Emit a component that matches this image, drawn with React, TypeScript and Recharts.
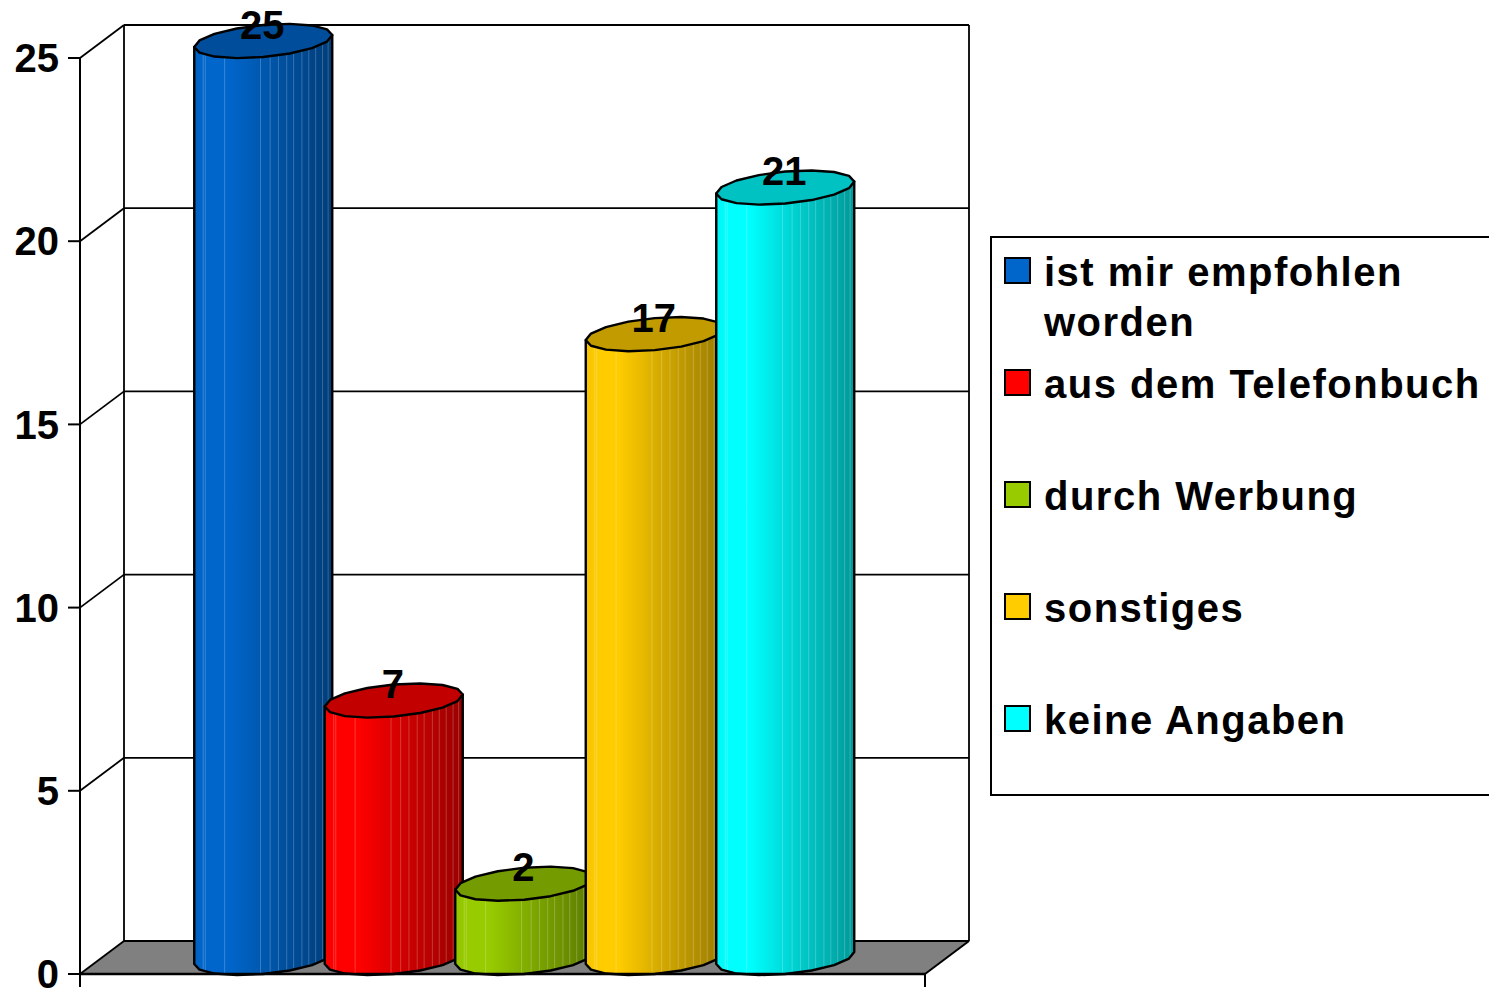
import React from 'react';
import { BarChart, Bar, XAxis, YAxis, CartesianGrid, Legend, LabelList } from 'recharts';

const seriesKeys = ['empfohlen', 'telefonbuch', 'werbung', 'sonstiges', 'keine'];
const seriesNames = ['ist mir empfohlen worden', 'aus dem Telefonbuch', 'durch Werbung', 'sonstiges', 'keine Angaben'];
const seriesValues = [25, 7, 2, 17, 21];
const seriesColors = ['#0066cc', '#ff0000', '#99cc00', '#ffcc00', '#00ffff'];
const yTicks = [0, 5, 10, 15, 20, 25];

const tableRow: Record<string, string | number> = { name: '' };
seriesKeys.forEach((k, i) => { tableRow[k] = seriesValues[i]; });
const table = [tableRow];

const FONT = '"Liberation Sans", Arial, sans-serif';
// 3d look: how far the back wall is shifted from the front plane
const DEPTH_X = 44;
const DEPTH_Y = 33;
const RADIUS_X = 69;
const RADIUS_Y = 16;
const TILT = 6;
const FACET_STEPS = 16;
const seams = [0.065, 0.08, 0.22, 0.48, 0.55, 0.61, 0.67, 0.72, 0.78, 0.83, 0.88, 0.93, 0.97];

function shade(hex: string, f: number) {
    const n = parseInt(hex.slice(1), 16);
    const c = [(n >> 16) & 255, (n >> 8) & 255, n & 255].map(v => Math.round(v * f));
    return `rgb(${c[0]},${c[1]},${c[2]})`;
}

function rim(cx: number, cy: number, t: number) {
    return [cx + RADIUS_X * Math.cos(t), cy + RADIUS_Y * Math.sin(t) - TILT * Math.cos(t)];
}

function Cylinder(props: any) {
    const { x, y, width, height, fill, index, dataKey } = props;
    const cx = x + width / 2 + DEPTH_X / 2;
    const topY = y - 17;
    const baseY = y + height - 16;
    const gid = `side-${dataKey}-${index}`;

    // front half of the base, left to right
    const front: number[][] = [];
    for (let i = 0; i <= FACET_STEPS / 2; i++) {
        front.push(rim(cx, baseY, Math.PI - (i * 2 * Math.PI) / FACET_STEPS));
    }
    const ring: number[][] = [];
    for (let i = 0; i < FACET_STEPS; i++) {
        ring.push(rim(cx, topY, (i * 2 * Math.PI) / FACET_STEPS));
    }
    const tl = rim(cx, topY, Math.PI);
    const tr = rim(cx, topY, 0);
    const side = `M${tl[0]},${tl[1]} ` + front.map(p => `L${p[0]},${p[1]}`).join(' ') + ` L${tr[0]},${tr[1]} Z`;

    return (
        <g>
            <defs>
                <linearGradient id={gid} x1="0" y1="0" x2="1" y2="0">
                    <stop offset="0" stopColor={shade(fill, 0.96)} />
                    <stop offset="0.1" stopColor={shade(fill, 1)} />
                    <stop offset="0.24" stopColor={shade(fill, 1)} />
                    <stop offset="0.6" stopColor={shade(fill, 0.8)} />
                    <stop offset="1" stopColor={shade(fill, 0.6)} />
                </linearGradient>
            </defs>
            <path d={side} fill={`url(#${gid})`} stroke="none" />
            {seams.map(f => {
                const t = Math.acos(2 * f - 1);
                const a = rim(cx, topY, t);
                const b = rim(cx, baseY, t);
                return <line key={f} x1={a[0]} y1={a[1]} x2={b[0]} y2={b[1]} stroke="#fff" strokeOpacity={0.22} strokeWidth={1} />;
            })}
            <path d={side} fill="none" stroke="#000" strokeWidth={2.4} strokeLinejoin="round" />
            <polygon points={ring.map(p => p.join(',')).join(' ')} fill={shade(fill, 0.76)} stroke="#000" strokeWidth={2.4} strokeLinejoin="round" />
        </g>
    );
}

// back wall, floor and frame are hung on the grid lines so they follow the y scale
function WallLine(props: any) {
    const { x1, x2, y1, y, height, index } = props;
    const bottom = y + height;
    const isFloor = Math.abs(y1 - bottom) < 0.5;
    const isTop = Math.abs(y1 - y) < 0.5;
    return (
        <g key={index} stroke="#000" strokeWidth={1.8} fill="none">
            {isFloor && (
                <>
                    <polygon
                        points={`${x1},${y1} ${x1 + DEPTH_X},${y1 - DEPTH_Y} ${x2 + DEPTH_X},${y1 - DEPTH_Y} ${x2},${y1}`}
                        fill="#808080"
                        stroke="none"
                    />
                    <line x1={x2} y1={y1} x2={x2 + DEPTH_X} y2={y1 - DEPTH_Y} strokeWidth={2} />
                    <line x1={x1} y1={y1} x2={x1} y2={y1 + 13} strokeWidth={2} />
                    <line x1={x2} y1={y1} x2={x2} y2={y1 + 13} strokeWidth={2} />
                </>
            )}
            {isTop && (
                <>
                    <line x1={x1 + DEPTH_X} y1={y1 - DEPTH_Y} x2={x1 + DEPTH_X} y2={bottom - DEPTH_Y} />
                    <line x1={x2 + DEPTH_X} y1={y1 - DEPTH_Y} x2={x2 + DEPTH_X} y2={bottom - DEPTH_Y} />
                </>
            )}
            <line x1={x1} y1={y1} x2={x1 + DEPTH_X} y2={y1 - DEPTH_Y} />
            <line x1={x1 + DEPTH_X} y1={y1 - DEPTH_Y} x2={x2 + DEPTH_X} y2={y1 - DEPTH_Y} />
        </g>
    );
}

function ValueLabel(props: any) {
    const { x, y, width, value } = props;
    return (
        <text
            x={x + width / 2 + DEPTH_X / 2 - 1}
            y={y - 19.5}
            textAnchor="middle"
            fontFamily={FONT}
            fontWeight={700}
            fontSize={40}
            fill="#000"
        >
            {value}
        </text>
    );
}

function LegendBox({ payload }: any) {
    return (
        <div style={{
            width: 510,
            height: 560,
            boxSizing: 'border-box',
            border: '2px solid #000',
            background: '#fff',
            paddingTop: 9,
            paddingLeft: 12,
            fontFamily: FONT,
            fontWeight: 700,
            fontSize: 40,
            lineHeight: '50px',
            letterSpacing: 1.5,
            color: '#000',
        }}>
            {(payload || []).map((p: any) => (
                <div key={p.value} style={{ display: 'flex', height: 112 }}>
                    <div style={{
                        width: 27,
                        height: 27,
                        marginTop: 10,
                        marginRight: 13,
                        flex: 'none',
                        boxSizing: 'border-box',
                        border: '2px solid #000',
                        background: p.color,
                    }} />
                    <div style={{ width: 445 }}>{p.value}</div>
                </div>
            ))}
        </div>
    );
}

export default function App() {
    return (
        <div style={{ position: 'fixed', left: 0, top: 0, width: 1489, height: 991, overflow: 'hidden', background: '#fff' }}>
            <BarChart
                width={1489}
                height={991}
                data={table}
                barSize={130.5}
                barGap={0}
                margin={{ top: 58, right: 54, bottom: 0, left: 0 }}
            >
                <CartesianGrid vertical={false} horizontal={(p: any) => <WallLine {...p} />} />
                <XAxis dataKey="name" height={17} tick={false} tickLine={false} axisLine={{ stroke: '#000', strokeWidth: 2.4 }} />
                <YAxis
                    width={80}
                    domain={[0, 25]}
                    ticks={yTicks}
                    interval={0}
                    tickSize={12}
                    tickMargin={9}
                    axisLine={{ stroke: '#000', strokeWidth: 2 }}
                    tickLine={{ stroke: '#000', strokeWidth: 2 }}
                    tick={{ fill: '#000', fontFamily: FONT, fontWeight: 700, fontSize: 40 }}
                />
                <Legend
                    layout="vertical"
                    align="right"
                    verticalAlign="top"
                    width={510}
                    itemSorter={null}
                    wrapperStyle={{ left: 990, top: 236, right: 'auto' }}
                    content={<LegendBox />}
                />
                {seriesKeys.map((k, i) => (
                    <Bar
                        key={k}
                        dataKey={k}
                        name={seriesNames[i]}
                        fill={seriesColors[i]}
                        isAnimationActive={false}
                        shape={(p: any) => <Cylinder {...p} dataKey={k} />}
                    >
                        <LabelList dataKey={k} content={<ValueLabel />} />
                    </Bar>
                ))}
            </BarChart>
        </div>
    );
}
